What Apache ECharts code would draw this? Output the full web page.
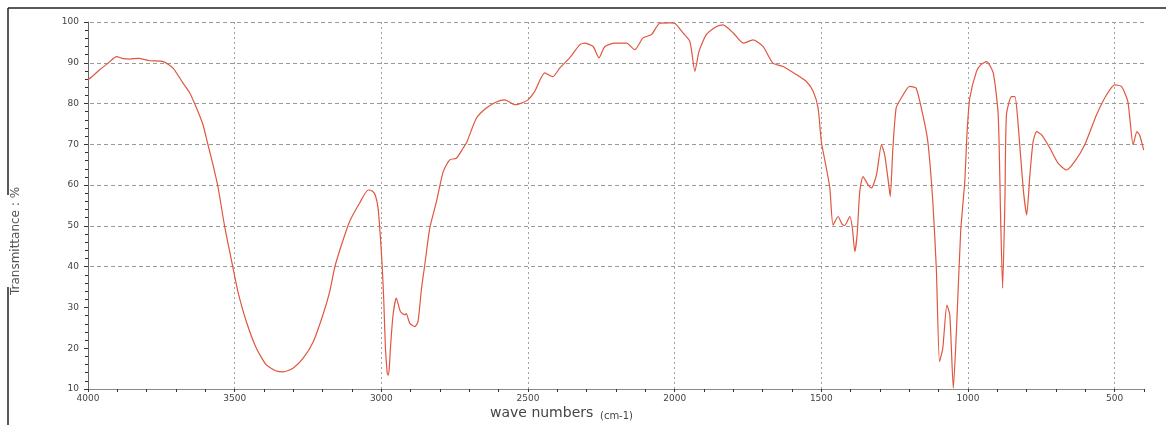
<!DOCTYPE html>
<html>
<head>
<meta charset="utf-8">
<title>IR spectrum</title>
<script src="https://cdn.jsdelivr.net/npm/echarts@6/dist/echarts.min.js"></script>
<style>
    html, body { margin: 0; padding: 0; background: #fff; }
    #chart { width: 1166px; height: 425px; }
</style>
</head>
<body>
<div id="chart"></div>
<script>
// wave numbers (cm-1)
const waveNumbers = [
    4000, 3980, 3960, 3930, 3903, 3880, 3858, 3829, 3790, 3743, 3710, 3676, 3653, 3630, 3608, 3591,
    3574, 3557, 3534, 3506, 3489, 3460, 3426, 3392, 3358, 3334, 3301, 3267, 3232, 3199, 3176, 3159,
    3136, 3108, 3074, 3045, 3030, 3020, 3011, 3003, 2997, 2992, 2986, 2980, 2977, 2973, 2969, 2960,
    2949, 2935, 2920, 2915, 2903, 2886, 2875, 2863, 2852, 2835, 2812, 2789, 2767, 2744, 2721, 2710,
    2676, 2642, 2608, 2579, 2545, 2522, 2500, 2477, 2443, 2415, 2392, 2358, 2324, 2307, 2278, 2258,
    2238, 2204, 2164, 2136, 2108, 2079, 2051, 2016, 2000, 1971, 1948, 1931, 1917, 1892, 1857, 1835,
    1800, 1766, 1733, 1699, 1665, 1630, 1585, 1551, 1528, 1511, 1500, 1483, 1471, 1460, 1443, 1430,
    1420, 1403, 1394, 1386, 1378, 1369, 1358, 1340, 1329, 1312, 1295, 1284, 1270, 1265, 1256, 1245,
    1228, 1199, 1177, 1154, 1137, 1120, 1108, 1097, 1086, 1072, 1062, 1050, 1039, 1025, 1011, 1003,
    994, 971, 955, 937, 914, 897, 889, 882, 874, 869, 852, 840, 829, 812, 800, 789,
    778, 766, 749, 721, 693, 664, 636, 602, 562, 528, 500, 477, 455, 437, 424, 415,
    401
];

// transmittance (%)
const transmittance = [
    85.8, 87.0, 88.3, 90.0, 91.5, 91.0, 90.9, 91.1, 90.5, 90.3, 88.7, 85.0, 82.6, 78.9, 74.8, 69.9,
    65.0, 59.6, 49.8, 39.8, 33.9, 26.5, 20.0, 15.9, 14.4, 14.2, 15.1, 17.5, 21.6, 28.2, 33.9, 39.8,
    45.3, 51.1, 55.6, 58.8, 58.5, 57.4, 54.3, 47.0, 40.0, 32.3, 20.0, 14.0, 13.4, 15.0, 20.0, 28.2,
    32.3, 29.0, 28.2, 28.5, 26.1, 25.3, 26.5, 34.7, 40.4, 49.4, 56.0, 63.3, 66.2, 66.6, 69.1, 70.3,
    76.4, 78.9, 80.4, 80.9, 79.7, 80.1, 80.9, 83.0, 87.5, 86.6, 88.7, 91.2, 94.4, 94.8, 94.0, 91.2,
    94.0, 94.8, 94.8, 93.2, 96.1, 96.9, 99.7, 99.8, 99.7, 97.3, 95.2, 87.9, 92.8, 96.9, 98.9, 99.3,
    97.3, 94.8, 95.6, 94.0, 89.9, 89.1, 87.1, 85.4, 83.0, 78.9, 70.7, 64.2, 59.3, 50.2, 52.3, 50.5,
    50.1, 52.3, 49.4, 43.7, 47.8, 58.4, 62.1, 60.0, 59.3, 62.5, 69.9, 67.4, 60.0, 57.2, 69.1, 78.9,
    81.3, 84.2, 83.8, 77.2, 70.7, 56.0, 39.6, 16.7, 20.0, 30.6, 28.2, 10.2, 24.9, 48.6, 60.9, 73.1,
    81.3, 87.9, 89.6, 90.3, 87.5, 77.2, 52.7, 34.7, 56.8, 77.2, 81.7, 81.7, 74.8, 59.3, 52.7, 62.5,
    70.7, 73.1, 72.3, 69.1, 65.4, 63.7, 65.8, 69.9, 77.2, 82.1, 84.6, 84.2, 80.5, 69.9, 73.1, 72.3,
    68.6
];

const xTickLabels = [4000, 3500, 3000, 2500, 2000, 1500, 1000, 500];
// grid lines that show in the picture
const yGridValues = [40, 50, 60, 70, 80, 90, 100];
const xGridValues = [3500, 3000, 2500, 2000, 1500, 1000, 500];

const chart = echarts.init(document.getElementById('chart'));

const gridLines = [].concat(
    yGridValues.map(v => ({ yAxis: v, lineStyle: { color: '#9a9a9a', type: [4, 3], width: 1 } })),
    xGridValues.map(v => ({ xAxis: v, lineStyle: { color: '#a0a0a0', type: [2, 3], width: 1 } }))
);

chart.setOption({
    animation: false,
    backgroundColor: '#fff',
    grid: { left: 88, right: 22, top: 22, bottom: 36 },
    xAxis: {
        type: 'value',
        inverse: true,
        min: 400,
        max: 4000,
        splitNumber: 7,
        axisLine: { lineStyle: { color: '#8a8a8a', width: 1 } },
        axisTick: { show: true, length: 3, lineStyle: { color: '#333' } },
        minorTick: { show: true, splitNumber: 5, length: 3, lineStyle: { color: '#333' } },
        axisLabel: {
            color: '#444',
            fontSize: 9,
            margin: 5,
            fontFamily: 'DejaVu Sans',
            // only the 500 steps carry a label
            formatter: v => (xTickLabels.indexOf(v) >= 0 ? String(v) : '')
        },
        splitLine: { show: false }
    },
    yAxis: {
        type: 'value',
        min: 10,
        max: 100,
        interval: 10,
        axisLine: { show: true, lineStyle: { color: '#666', width: 1 } },
        axisTick: { show: true, length: 4, lineStyle: { color: '#333' } },
        minorTick: { show: true, splitNumber: 5, length: 3, lineStyle: { color: '#333' } },
        axisLabel: { color: '#444', fontSize: 9, margin: 9, fontFamily: 'DejaVu Sans' },
        splitLine: { show: false }
    },
    series: [
        {
            type: 'line',
            data: waveNumbers.map((w, i) => [w, transmittance[i]]),
            showSymbol: false,
            smooth: 0.2,
            z: 3,
            lineStyle: { color: '#e0563f', width: 1.2 },
            markLine: {
                silent: true,
                symbol: 'none',
                z: 1,
                label: { show: false },
                emphasis: { disabled: true },
                data: gridLines
            }
        }
    ],
    graphic: [
        { type: 'line', shape: { x1: 8, y1: 8, x2: 1166, y2: 8 }, style: { stroke: '#222', lineWidth: 1.5 } },
        { type: 'line', shape: { x1: 8, y1: 8, x2: 8, y2: 195 }, style: { stroke: '#222', lineWidth: 1.5 } },
        { type: 'line', shape: { x1: 8, y1: 287, x2: 8, y2: 425 }, style: { stroke: '#222', lineWidth: 1.5 } },
        {
            type: 'text',
            x: 16,
            y: 241,
            rotation: Math.PI / 2,
            style: {
                text: 'Transmittance : %',
                fill: '#555',
                font: '12px "DejaVu Sans"',
                align: 'center',
                verticalAlign: 'middle'
            }
        },
        {
            type: 'text',
            x: 490,
            y: 413,
            style: {
                text: '{a|wave numbers}  {b|(cm-1)}',
                verticalAlign: 'middle',
                rich: {
                    a: { fill: '#444', fontSize: 14, fontFamily: 'DejaVu Sans' },
                    b: { fill: '#444', fontSize: 10, fontFamily: 'DejaVu Sans', padding: [7, 0, 0, 0] }
                }
            }
        }
    ]
});
</script>
</body>
</html>
